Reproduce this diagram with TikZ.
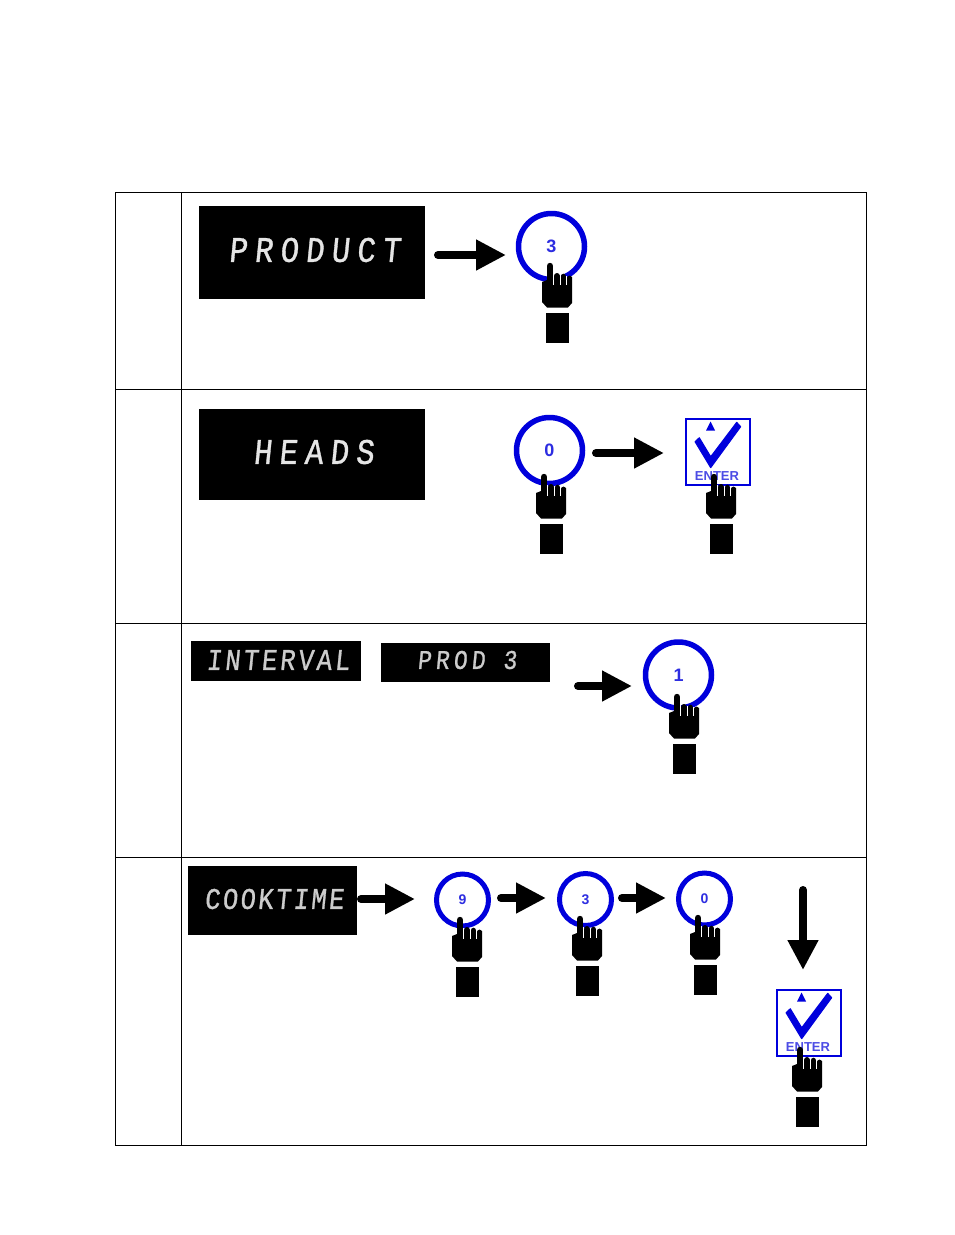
\documentclass[tikz,border=0pt]{standalone}
\usepackage{fontspec}
\usetikzlibrary{arrows.meta}
\setmainfont{Liberation Sans}
\newfontfamily\lcdface[FakeSlant=0.1,FakeStretch=0.85,FakeBold=0.9]{Liberation Mono}
\definecolor{keyblue}{RGB}{0,0,220}
\definecolor{textblue}{RGB}{45,45,225}
\tikzset{
  x=1pt,y=-1pt,
  rule/.style={draw=black,line width=0.9pt},
  display/.style={fill=black,inner sep=0pt,outer sep=0pt},
  lcdA/.style={text=white!90!black,inner sep=0pt,font=\lcdface\fontsize{36}{36}\selectfont\addfontfeatures{LetterSpace=20}},
  lcdB/.style={text=white!80!black,inner sep=0pt,font=\lcdface\fontsize{30}{30}\selectfont\addfontfeatures{LetterSpace=10}},
  lcdD/.style={text=white!80!black,inner sep=0pt,font=\lcdface\fontsize{30}{30}\selectfont\addfontfeatures{LetterSpace=8}},
  lcdC/.style={text=white!80!black,inner sep=0pt,font=\lcdface\fontsize{27}{27}\selectfont\addfontfeatures{LetterSpace=15.5}},
  keybig/.style={circle,draw=keyblue,line width=5.5pt,minimum size=66pt,inner sep=0pt,text=textblue,font=\bfseries\fontsize{18}{18}\selectfont},
  keysmall/.style={circle,draw=keyblue,line width=5pt,minimum size=52pt,inner sep=0pt,text=textblue,font=\bfseries\fontsize{14}{14}\selectfont},
  enterbox/.style={draw=keyblue,line width=2pt,fill=white,minimum width=64pt,minimum height=66pt,inner sep=0pt},
  entertext/.style={text=textblue!85!white,inner sep=0pt,font=\bfseries\fontsize{13}{13}\selectfont},
  flow/.style={line width=8pt,line cap=round,-{Triangle[length=30pt,width=29pt,sharp]}},
  hand/.pic={
    \fill[black] (-8,19) -- (-3,17) -- (22,14) -- (22,40) -- (18,44.5) -- (-3,44.5) -- (-8,39) -- cycle;
    \draw[black,line width=6.4pt,line cap=round] (0,3) -- (0,25);
    \draw[black,line width=6pt,line cap=round] (6.9,13) -- (6.9,25);
    \draw[black,line width=5.6pt,line cap=round] (13.4,13.5) -- (13.4,25);
    \draw[black,line width=4.8pt,line cap=round] (19.4,15) -- (19.4,25);
    \draw[white,line width=0.9pt] (3.6,11) -- (3.6,22);
    \draw[white,line width=0.9pt] (10.3,12) -- (10.3,22);
    \draw[white,line width=0.9pt] (16.6,13) -- (16.6,22);
    \fill[black] (-4,50) rectangle (19,80);
  },
  checkmark/.pic={
    \fill[keyblue,draw=keyblue,line width=1pt,line join=round] (-23,-9.8) -- (-18.7,-13.8) -- (-7.3,5.2) -- (18.7,-29.2) -- (22.7,-24.8) -- (-7.3,16.2) -- cycle;
    \fill[keyblue] (-12,-21) -- (-3,-21) -- (-7.5,-30) -- cycle;
  }
}
\begin{document}
\begin{tikzpicture}
\useasboundingbox (0,0) rectangle (954,1235);
\fill[white] (0,0) rectangle (954,1235);
% table
\draw[rule] (115.5,192.5) rectangle (866.5,1145.5);
\draw[rule] (181.5,192.5) -- (181.5,1145.5);
\draw[rule] (115.5,389.5) -- (866.5,389.5);
\draw[rule] (115.5,623.5) -- (866.5,623.5);
\draw[rule] (115.5,857.5) -- (866.5,857.5);
% displays
\node[display,minimum width=226pt,minimum height=93pt] (d1) at (312,252.5) {};
\node[lcdA] (t1) at (314.5,250) {PRODUCT};
\node[display,minimum width=226pt,minimum height=91pt] (d2) at (312,454.5) {};
\node[lcdA] (t2) at (313.5,452) {HEADS};
\node[display,minimum width=170pt,minimum height=40pt] (d3) at (276,661) {};
\node[lcdB] (t3) at (278,660) {INTERVAL};
\node[display,minimum width=169pt,minimum height=39pt] (d4) at (465.5,662.5) {};
\node[lcdC] (t4) at (467,660) {PROD 3};
\node[display,minimum width=169pt,minimum height=69pt] (d5) at (272.5,900.5) {};
\node[lcdD] (t5) at (274,899) {COOKTIME};
% keys
\node[keybig] (k1) at (551.5,246.5) {3};
\node[keybig] (k2) at (549.5,450.5) {0};
\node[keybig] (k3) at (678.5,675) {1};
\node[keysmall] (k4) at (462.5,900) {9};
\node[keysmall] (k5) at (585.5,899.5) {3};
\node[keysmall] (k6) at (704.5,899) {0};
% enter keys
\node[enterbox] (e1) at (717.7,451.5) {};
\pic at (718,451.5) {checkmark};
\node[entertext] (et1) at (717,476.5) {ENTER};
\node[enterbox] (e2) at (808.7,1022.5) {};
\pic at (809,1022.5) {checkmark};
\node[entertext] (et2) at (808,1047.5) {ENTER};
% hands
\pic at (550,263) {hand};
\pic at (544,474) {hand};
\pic at (714,474) {hand};
\pic at (677,694) {hand};
\pic at (460,917) {hand};
\pic at (580,916) {hand};
\pic at (698,915) {hand};
\pic at (800,1047) {hand};
% arrows
\coordinate (a1s) at (438,255);  \coordinate (a1e) at (506,255);
\coordinate (a2s) at (596,453);  \coordinate (a2e) at (664,453);
\coordinate (a3s) at (578,686);  \coordinate (a3e) at (632,686);
\coordinate (a4s) at (361,899);  \coordinate (a4e) at (415,899);
\coordinate (a5s) at (501,898);  \coordinate (a5e) at (546,898);
\coordinate (a6s) at (622,898);  \coordinate (a6e) at (666,898);
\coordinate (a7s) at (803,890);  \coordinate (a7e) at (803,970);
\foreach \i in {1,...,7} \draw[flow] (a\i s) -- (a\i e);
\end{tikzpicture}
\end{document}
